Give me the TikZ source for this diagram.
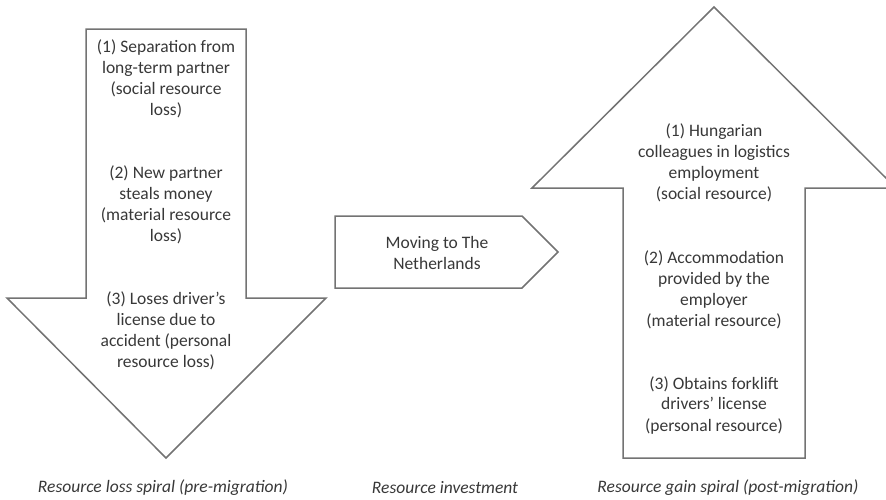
\documentclass[tikz,border=0pt]{standalone}
\usepackage{fontspec}
\setmainfont{Carlito}
\begin{document}
\begin{tikzpicture}[x=1pt,y=-1pt,
  outline/.style={draw=black!55,line width=1.5pt,line join=miter},
  txt/.style={text=black!78,align=center,font=\fontsize{17.5}{21}\selectfont,inner sep=0pt},
  caption/.style={text=black!78,font=\fontsize{17.5}{21}\selectfont\itshape,inner sep=0pt}]
\useasboundingbox (0,0) rectangle (886,499);
\clip (0,0) rectangle (886,499);

% downward arrow: resource loss
\draw[outline] (86,29) -- (246,29) -- (246,298) -- (326,298) -- (166,458)
  -- (7,298) -- (86,298) -- cycle;
% middle pentagon: resource investment
\draw[outline] (335,216) -- (522,216) -- (558,252) -- (522,288) -- (335,288) -- cycle;
% upward arrow: resource gain
\draw[outline] (623,458) -- (805,458) -- (805,188) -- (896,188) -- (714,7)
  -- (532,188) -- (623,188) -- cycle;

% loss items
\node[txt] (l1) at (166,79) {(1) Separation from\\long-term partner\\(social resource\\loss)};
\node[txt] (l2) at (166,205) {(2) New partner\\steals money\\(material resource\\loss)};
\node[txt] (l3) at (166,331) {(3) Loses driver’s\\license due to\\accident (personal\\resource loss)};

% investment
\node[txt] (inv) at (437,253) {Moving to The\\Netherlands};

% gain items
\node[txt] (g1) at (714,163) {(1) Hungarian\\colleagues in logistics\\employment\\(social resource)};
\node[txt] (g2) at (714,290) {(2) Accommodation\\provided by the\\employer\\(material resource)};
\node[txt] (g3) at (714,405) {(3) Obtains forklift\\drivers’ license\\(personal resource)};

% captions
\node[caption] (c1) at (163,488) {Resource loss spiral (pre-migration)};
\node[caption] (c2) at (445,488) {Resource investment};
\node[caption] (c3) at (728,488) {Resource gain spiral (post-migration)};
\end{tikzpicture}
\end{document}
